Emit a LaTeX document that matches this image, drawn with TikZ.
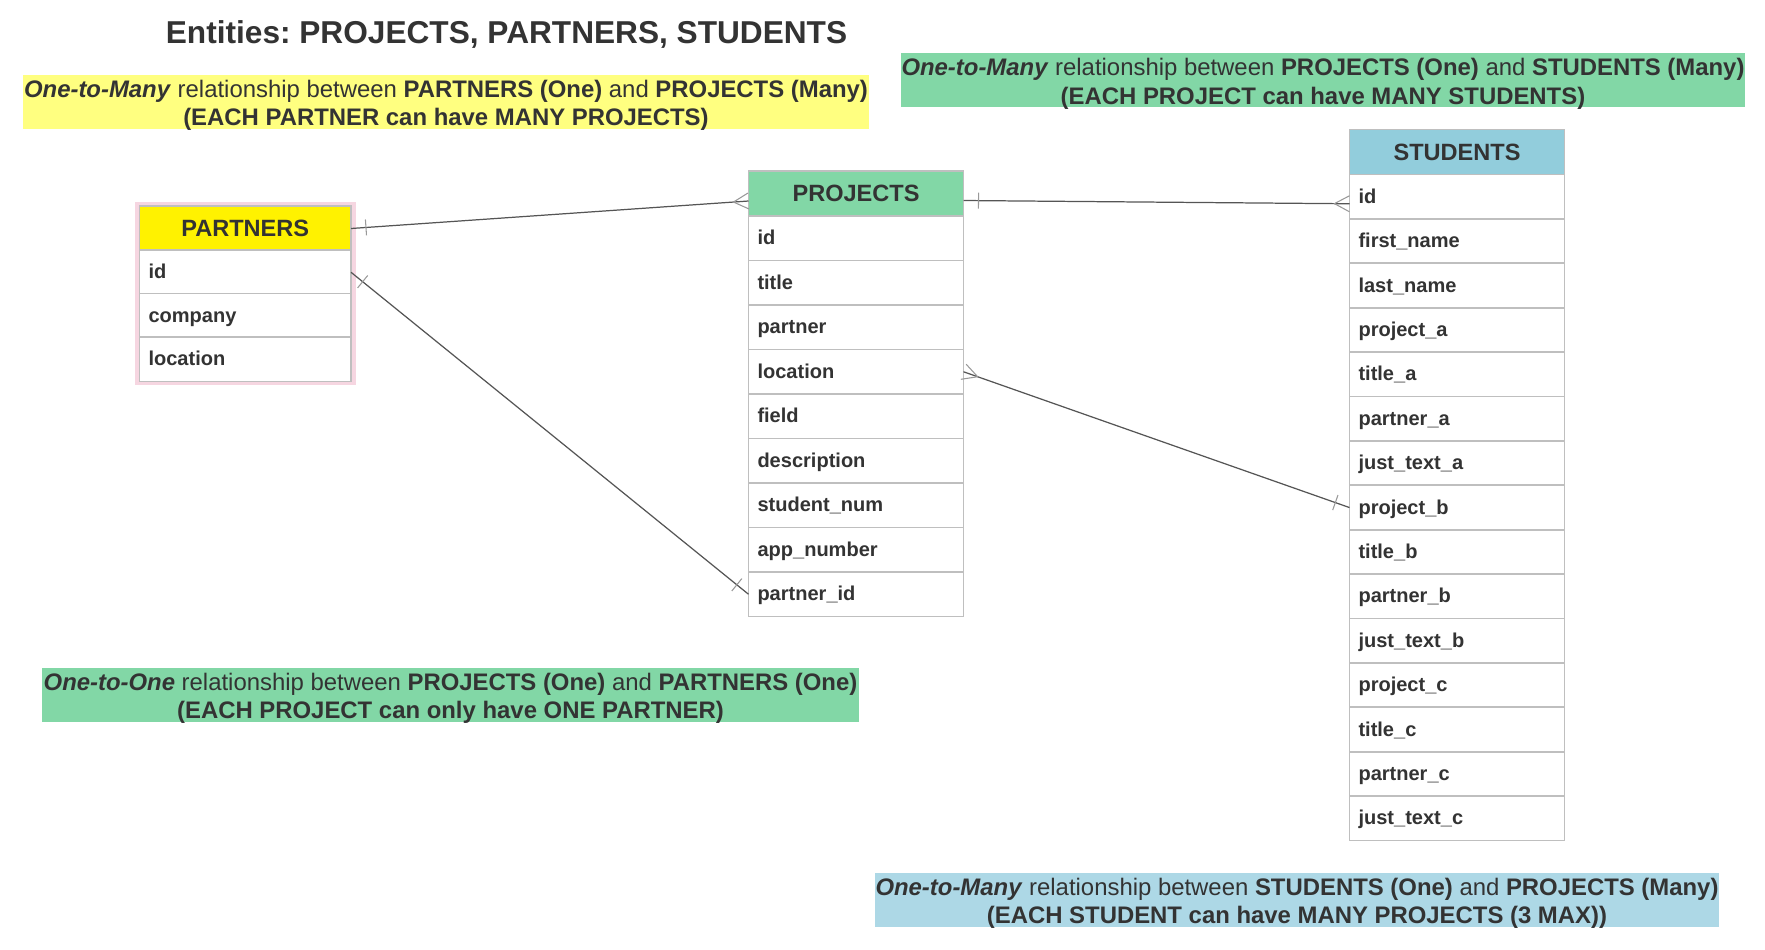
\documentclass[tikz,border=0pt]{standalone}
\usepackage{fontspec}
\setmainfont{Liberation Sans}
\frenchspacing
\usetikzlibrary{decorations.markings}
\definecolor{ink}{HTML}{333333}
\definecolor{tabline}{HTML}{BFBFBF}
\definecolor{projgreen}{HTML}{82D7A6}
\definecolor{studblue}{HTML}{92CDDC}
\definecolor{noteblue}{HTML}{ADD8E6}
\definecolor{noteyellow}{HTML}{FFFF80}
\definecolor{partpink}{HTML}{F6D6E1}
\definecolor{linkgray}{HTML}{555555}
\definecolor{markgray}{HTML}{999999}
\begin{document}
\begin{tikzpicture}[inner sep=0pt,outer sep=0pt,text=ink,
header/.style={draw=tabline,line width=1pt,anchor=north west,minimum width=#1,minimum height=0.9cm,font=\fontsize{13.4}{16}\selectfont\bfseries},
field/.style={draw=tabline,line width=1pt,fill=white,anchor=north west,minimum height=0.89cm,text width=#1,text height=0.9em,text depth=0.15em,inner xsep=0.18cm,align=left,font=\fontsize{11.4}{14}\selectfont\bfseries},
note/.style={fill=#1,minimum height=1.08cm,text height=1.02cm,text depth=0.06cm,align=center,font=\fontsize{13.6}{16}\selectfont},
link/.style={draw=linkgray,line width=0.7pt},
onestart/.style={postaction={decorate,decoration={markings,mark=at position 0.3cm with {\draw[markgray,line width=0.6pt] (0,-0.16) -- (0,0.16);}}}},
oneend/.style={postaction={decorate,decoration={markings,mark=at position -0.3cm with {\draw[markgray,line width=0.6pt] (0,-0.16) -- (0,0.16);}}}},
manystart/.style={postaction={decorate,decoration={markings,mark=at position 0 with {\draw[markgray,line width=0.6pt] (0,0.16) -- (0.3,0) -- (0,-0.16);}}}},
manyend/.style={postaction={decorate,decoration={markings,mark=at position 0.9999 with {\draw[markgray,line width=0.6pt] (0,0.16) -- (-0.3,0) -- (0,-0.16);}}}}]
\useasboundingbox (0,0) rectangle (35.3,-18.98);
\node[font=\fontsize{18}{22}\selectfont\bfseries] (title) at (10.13,-0.68) {Entities: PROJECTS, PARTNERS, STUDENTS};
\node[note=noteyellow,minimum width=16.93cm] (note-pp) at (8.92,-2.03) {\textbf{\textit{One-to-Many}} relationship between \textbf{PARTNERS (One)} and \textbf{PROJECTS (Many)}\\\textbf{(EACH PARTNER can have MANY PROJECTS)}};
\node[note=projgreen,minimum width=16.89cm] (note-ps) at (26.46,-1.6) {\textbf{\textit{One-to-Many}} relationship between \textbf{PROJECTS (One)} and \textbf{STUDENTS (Many)}\\\textbf{(EACH PROJECT can have MANY STUDENTS)}};
\node[note=projgreen,minimum width=16.35cm] (note-oo) at (9.01,-13.89) {\textbf{\textit{One-to-One}} relationship between \textbf{PROJECTS (One)} and \textbf{PARTNERS (One)}\\\textbf{(EACH PROJECT can only have ONE PARTNER)}};
\node[note=noteblue,minimum width=16.89cm] (note-sp) at (25.94,-17.99) {\textbf{\textit{One-to-Many}} relationship between \textbf{STUDENTS (One)} and \textbf{PROJECTS (Many)}\\\textbf{(EACH STUDENT can have MANY PROJECTS (3 MAX))}};
\draw[partpink,line width=0.09cm] (2.745,-4.075) rectangle (7.065,-7.655);
\node[header=4.23cm,fill=yellow] (part-h) at (2.79,-4.12) {PARTNERS};
\foreach \f [count=\i] in {id,company,location}
  \node[field=3.87cm] (part-\i) at (2.79,{-5.0-(\i-1)*0.87}) {\f};
\node[header=4.3cm,fill=projgreen] (proj-h) at (14.97,-3.42) {PROJECTS};
\foreach \f [count=\i] in {id,title,partner,location,field,description,student\_num,app\_number,partner\_id}
  \node[field=3.94cm] (proj-\i) at (14.97,{-4.32-(\i-1)*0.89}) {\f};
\node[header=4.3cm,fill=studblue] (stud-h) at (26.99,-2.59) {STUDENTS};
\foreach \f [count=\i] in {id,first\_name,last\_name,project\_a,title\_a,partner\_a,just\_text\_a,project\_b,title\_b,partner\_b,just\_text\_b,project\_c,title\_c,partner\_c,just\_text\_c}
  \node[field=3.94cm] (stud-\i) at (26.99,{-3.49-(\i-1)*0.888}) {\f};
\draw[link,onestart,manyend] (part-h.east) -- ([yshift=-0.15cm]proj-h.west);
\draw[link,onestart,oneend] (part-1.east) -- (proj-9.west);
\draw[link,onestart,manyend] ([yshift=-0.14cm]proj-h.east) -- ([yshift=-0.14cm]stud-1.west);
\draw[link,manystart,oneend] (proj-4.east) -- (stud-8.west);
\end{tikzpicture}
\end{document}
